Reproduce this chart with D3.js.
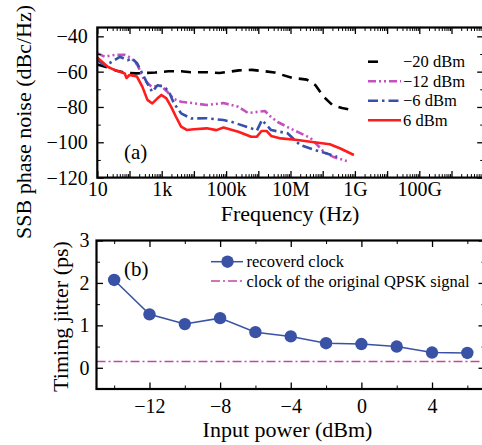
<!DOCTYPE html>
<html>
<head>
<meta charset="utf-8">
<script src="https://cdn.jsdelivr.net/npm/d3@7"></script>
<style>
  body { margin: 0; background: #fff; }
  svg  { display: block; font-family: "Liberation Serif", "DejaVu Serif", serif; }
</style>
</head>
<body>
<svg id="chart" width="482" height="445"></svg>
<script>
'use strict';

// ---- panel (a): SSB phase noise vs frequency ----
const freqN20  = [1e1, 2e1, 4e1, 8e1, 1.6e2, 3.2e2, 6.3e2, 1.6e3, 4e3, 8e3, 2.5e4, 6.3e4, 1.3e5, 2.5e5, 6.3e5, 1.3e6, 3.2e6, 1.1e7, 3.2e7, 5.9e7, 1.1e8, 2e8, 4e8, 9e8];
const noiseN20 = [-56, -57.5, -59.5, -60.7, -61, -60.7, -60.5, -59.8, -59.8, -60.3, -60.3, -60.8, -60, -59.3, -59, -59.6, -60.5, -63.5, -64.5, -67.6, -74.4, -78.9, -80.6, -81.8];

const freqN12  = [1e1, 1.7e1, 3.5e1, 7.1e1, 1.15e2, 1.78e2, 2.8e2, 4.8e2, 9.5e2, 1.5e3, 2.4e3, 4e3, 9.8e3, 2.5e4, 8.3e4, 2.4e5, 4.8e5, 1.6e6, 2.5e6, 4e6, 8.1e6, 2e7, 4.2e7, 1.1e8, 2.2e8, 5.6e8];
const noiseN12 = [-49.6, -51.5, -50.5, -50.5, -52.4, -56.3, -64.5, -68.5, -68, -71.4, -75.5, -77, -77.9, -78.9, -77.8, -79.9, -83.4, -82.3, -85.7, -88.5, -91.4, -94.8, -97.6, -105.5, -108.4, -110.6];

const freqN6   = [1e1, 1.7e1, 2.5e1, 5e1, 8.7e1, 1.2e2, 1.74e2, 2.5e2, 3.6e2, 5.1e2, 7.4e2, 1.2e3, 1.7e3, 2.4e3, 4e3, 8.1e3, 2.5e4, 8.3e4, 1.45e5, 6e5, 9.1e5, 1.3e6, 2.5e6, 8.1e6, 2e7, 5.9e7, 2.8e8];
const noiseN6  = [-53.5, -56.3, -55, -51.6, -53.5, -52.5, -55.4, -61.1, -66.8, -71.5, -67.7, -68.6, -71.5, -78, -83.6, -86.5, -86.4, -87.4, -88.4, -92.1, -93.3, -87.4, -93.1, -94.9, -101.6, -104.4, -108.2];

const freqP6   = [1e1, 1.4e1, 2.1e1, 3.5e1, 5e1, 7.1e1, 8.1e1, 1e2, 1.7e2, 2.5e2, 3.6e2, 5.1e2, 7.4e2, 9.8e2, 1.4e3, 1.95e3, 2.75e3, 4e3, 6e3, 1e4, 2.5e4, 5e4, 8.3e4, 2.4e5, 6e5, 8.9e5, 1.26e6, 1.8e6, 2.5e6, 5e6, 1.66e7, 5.4e7, 1.66e8, 3.4e8, 9.3e8];
const noiseP6  = [-52, -54.4, -57.2, -59.1, -60.1, -61, -63.6, -61.9, -62.8, -68.5, -76, -78, -75.1, -73.2, -75.1, -79.8, -85.4, -91.1, -93, -92.6, -92.1, -93.1, -91.6, -94, -96.9, -96.9, -93.6, -93.6, -96.4, -97.8, -98.7, -100, -101.1, -103.4, -107.2];

const seriesNames = ['\u221220 dBm', '\u221212 dBm', '\u22126 dBm', '6 dBm'];
const freqTickValues = [1e1, 1e3, 1e5, 1e7, 1e9, 1e11];
const freqTickLabels = ['10', '1k', '100k', '10M', '1G', '100G'];
const noiseTicks = [-120, -100, -80, -60, -40];

// ---- panel (b): timing jitter vs input power ----
const inputPower   = [-14, -12, -10, -8, -6, -4, -2, 0, 2, 4, 6];
const timingJitter = [2.07, 1.26, 1.03, 1.17, 0.84, 0.74, 0.58, 0.56, 0.50, 0.36, 0.35];
const originalJitter = 0.15;
const powerTicks  = [-12, -8, -4, 0, 4];
const jitterTicks = [0, 1, 2, 3];
const legendB = ['recoverd clock', 'clock of the original QPSK signal'];

const svg = d3.select('#chart');
const minus = (v) => String(v).replace('-', '\u2212');

// draws frame and inward ticks on all four sides
function frame(g, x, y, xMajor, xMinor, yMajor, yMinor, xFmt, yFmt, xPad, yPad) {
  const [x0, x1] = x.range(), [y0, y1] = y.range();
  const sides = [
    [d3.axisBottom, x, `translate(0,${y0})`, xMajor, xMinor, xFmt, xPad],
    [d3.axisTop,    x, `translate(0,${y1})`, xMajor, xMinor, () => '', 0],
    [d3.axisLeft,   y, `translate(${x0},0)`, yMajor, yMinor, yFmt, yPad],
    [d3.axisRight,  y, `translate(${x1},0)`, yMajor, yMinor, () => '', 0]
  ];
  sides.forEach(([axis, sc, tr, major, minor, fmt, pad]) => {
    g.append('g').attr('transform', tr)
      .call(axis(sc).tickValues(minor).tickSize(-3.5).tickFormat(''))
      .call((s) => s.select('.domain').remove());
    g.append('g').attr('transform', tr)
      .call(axis(sc).tickValues(major).tickSize(-6.5).tickPadding(pad).tickFormat(fmt))
      .call((s) => s.select('.domain').remove())
      .call((s) => s.selectAll('line').attr('stroke-width', 1.3));
  });
  g.selectAll('.tick line').attr('stroke', '#000');
  g.append('rect')
    .attr('x', x0).attr('y', y1)
    .attr('width', x1 - x0).attr('height', y0 - y1)
    .attr('fill', 'none').attr('stroke', '#000').attr('stroke-width', 2.2);
}

// ===================== panel (a) =====================
const xa = d3.scaleLog().domain([1e1, 1e13]).range([97.3, 483.7]);
const ya = d3.scaleLinear().domain([-120, -35]).range([177.6, 27.5]);

const decades = d3.range(1, 14).map((e) => Math.pow(10, e));
const minorFreq = [];
decades.slice(0, -1).forEach((d) => { for (let k = 2; k < 10; k++) minorFreq.push(d * k); });

const ga = svg.append('g');
const styles = [
  { color: '#000000', dash: '10,7' },
  { color: '#c352c0', dash: '8,3,2,3,2,3' },
  { color: '#3550ad', dash: '10,4,2.5,4' },
  { color: '#ff1c1c', dash: null }
];
const series = [
  d3.zip(freqN20, noiseN20),
  d3.zip(freqN12, noiseN12),
  d3.zip(freqN6, noiseN6),
  d3.zip(freqP6, noiseP6)
];
const line = d3.line().x((d) => xa(d[0])).y((d) => ya(d[1]));

ga.selectAll('.curve')
    .data(series)
  .enter().append('path')
    .attr('class', 'curve')
    .attr('d', line)
    .attr('fill', 'none')
    .attr('stroke', (d, i) => styles[i].color)
    .attr('stroke-width', 2.6)
    .attr('stroke-linejoin', 'round')
    .attr('stroke-dasharray', (d, i) => styles[i].dash);

frame(ga, xa, ya, decades, minorFreq,
      noiseTicks, [-110, -90, -70, -50],
      (d) => { const i = freqTickValues.indexOf(d); return i < 0 ? '' : freqTickLabels[i]; },
      (d) => minus(d), 4.5, 9.5);

ga.selectAll('.tick text').attr('font-size', 20).attr('fill', '#000')
  .style('font-family', '"Liberation Serif", serif');

// legend (a)
const legA = ga.append('g');
seriesNames.forEach((name, i) => {
  const yy = 61.7 + i * 19.5;
  legA.append('line')
    .attr('x1', 368).attr('x2', i === 0 ? 381 : 401)
    .attr('y1', yy).attr('y2', yy)
    .attr('stroke', styles[i].color).attr('stroke-width', 2.6)
    .attr('stroke-dasharray', styles[i].dash);
  legA.append('text')
    .attr('x', 403).attr('y', yy + 5.5)
    .attr('font-size', 16.5)
    .text(name);
});

ga.append('text').attr('x', 124).attr('y', 159).attr('font-size', 21).text('(a)');

svg.append('text')
  .attr('x', 290).attr('y', 221)
  .attr('text-anchor', 'middle').attr('font-size', 22)
  .text('Frequency (Hz)');

svg.append('text')
  .attr('transform', 'translate(31,122) rotate(-90)')
  .attr('text-anchor', 'middle').attr('font-size', 22)
  .text('SSB phase noise (dBc/Hz)');

// ===================== panel (b) =====================
const xb = d3.scaleLinear().domain([-15, 7]).range([96.5, 485]);
const yb = d3.scaleLinear().domain([-0.5, 3]).range([389, 240.5]);

const gb = svg.append('g');

gb.append('line')
  .attr('x1', xb.range()[0]).attr('x2', xb.range()[1])
  .attr('y1', yb(originalJitter)).attr('y2', yb(originalJitter))
  .attr('stroke', '#c4479f').attr('stroke-width', 1.5)
  .attr('stroke-dasharray', '9,3,2,3');

const pts = d3.zip(inputPower, timingJitter);
gb.append('path')
  .datum(pts)
  .attr('d', d3.line().x((d) => xb(d[0])).y((d) => yb(d[1])))
  .attr('fill', 'none').attr('stroke', '#3a52a6').attr('stroke-width', 1.5);

gb.selectAll('.dot')
    .data(pts)
  .enter().append('circle')
    .attr('class', 'dot')
    .attr('cx', (d) => xb(d[0])).attr('cy', (d) => yb(d[1]))
    .attr('r', 6.2)
    .attr('fill', '#3a52a6');

frame(gb, xb, yb, powerTicks, [-14, -10, -6, -2, 2, 6],
      jitterTicks, [-0.5, 0.5, 1.5, 2.5],
      (d) => minus(d), (d) => minus(d), 10, 7);

gb.selectAll('.tick text').attr('font-size', 20).attr('fill', '#000')
  .style('font-family', '"Liberation Serif", serif');

// legend (b)
gb.append('line').attr('x1', 211).attr('x2', 243).attr('y1', 261.7).attr('y2', 261.7)
  .attr('stroke', '#3a52a6').attr('stroke-width', 1.5);
gb.append('circle').attr('cx', 227.5).attr('cy', 261.7).attr('r', 6.2).attr('fill', '#3a52a6');
gb.append('line').attr('x1', 211).attr('x2', 243).attr('y1', 281).attr('y2', 281)
  .attr('stroke', '#c4479f').attr('stroke-width', 1.5).attr('stroke-dasharray', '9,3,2,3');
legendB.forEach((t, i) => {
  gb.append('text').attr('x', 246.5).attr('y', 261.7 + i * 19.3 + 5.5)
    .attr('font-size', 16.5).text(t);
});

gb.append('text').attr('x', 124).attr('y', 276).attr('font-size', 21).text('(b)');

svg.append('text')
  .attr('x', 287.5).attr('y', 436.7)
  .attr('text-anchor', 'middle').attr('font-size', 22)
  .text('Input power (dBm)');

svg.append('text')
  .attr('transform', 'translate(68,316.5) rotate(-90)')
  .attr('text-anchor', 'middle').attr('font-size', 22)
  .text('Timing jitter (ps)');
</script>
</body>
</html>
